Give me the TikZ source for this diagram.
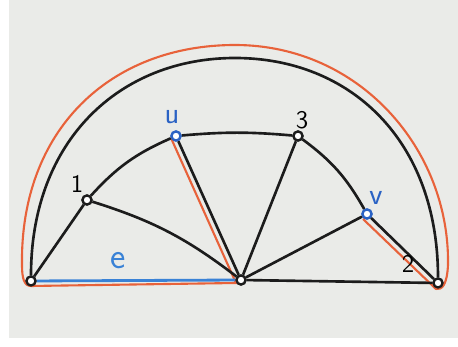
\documentclass[tikz,border=0pt]{standalone}
\usepackage{tikz}
\definecolor{board}{HTML}{EAEBE8}
\definecolor{marker}{HTML}{1C1C1C}
\definecolor{redmark}{HTML}{E8623A}
\definecolor{bluemark}{HTML}{2A62C4}
\definecolor{lightblue}{HTML}{3A82D6}

\begin{document}
\begin{tikzpicture}[x=0.02cm, y=-0.02cm, every node/.style={font=\sffamily\Large},
	vert/.style={circle, draw=marker, line width=1.3pt, fill=white, inner sep=0pt, minimum size=1.8mm},
	edge/.style={marker, line width=1.5pt},
	tour/.style={redmark, line width=1.2pt, line join=round}]
	\fill[white] (0,0) rectangle (458,347);
	\fill[board] (9,0) rectangle (458,338);
	\useasboundingbox (0,0) rectangle (458,347);
	% vertices
	\node[vert] (A) at (31,281) {};
	\node[vert] (M) at (241,280) {};
	\node[vert] (B) at (438,283) {};
	\node[vert] (n1) at (87,200) {};
	\node[vert, draw=bluemark] (u) at (176,136) {};
	\node[vert] (n3) at (298,136) {};
	\node[vert, draw=bluemark] (v) at (367,214) {};
	\coordinate (top) at (235,58);
	% orange tour
	\draw[tour] ([shift={(-5,2)}]u.center) -- ([shift={(-5,3)}]M.center) -- ([shift={(0,5)}]A.center)
		.. controls (24,286) and (22,278) .. (22,265)
		.. controls (20,130) and (110,45) .. (235,45)
		.. controls (360,45) and (450,150) .. (448,265)
		.. controls (447,285) and (442,290) .. ([shift={(-2,6)}]B.center) -- ([shift={(-4,5)}]v.center);
	% edges
	\draw[edge] (A) -- (n1);
	\draw[edge] (n1) to[bend left=12] (u);
	\draw[edge] (u) to[bend left=5] (n3);
	\draw[edge] (n3) to[bend left=12] (v);
	\draw[edge] (v) -- (B);
	\draw[edge] (M) -- (B);
	\draw[edge] (n1) to[bend left=10] (M);
	\draw[edge] (u) -- (M);
	\draw[edge] (n3) -- (M);
	\draw[edge] (v) -- (M);
	\draw[edge] (A) .. controls (31,140) and (120,58) .. (top) .. controls (350,58) and (438,140) .. (B);
	\draw[lightblue, line width=1.6pt] (A) -- (M);
	% redraw the vertices on top
	\foreach \p in {A,M,B,n1,n3} \node[vert] at (\p) {};
	\foreach \p in {u,v} \node[vert, draw=bluemark] at (\p) {};
	% labels
	\node (l1) at (77,184) {1};
	\node[bluemark, font=\sffamily\LARGE] (lu) at (172,117) {u};
	\node (l3) at (302,120) {3};
	\node[bluemark, font=\sffamily\LARGE] (lv) at (376,198) {v};
	\node (l2) at (408,264) {2};
	\node[lightblue, font=\sffamily\huge] (le) at (118,261) {e};
\end{tikzpicture}
\end{document}
